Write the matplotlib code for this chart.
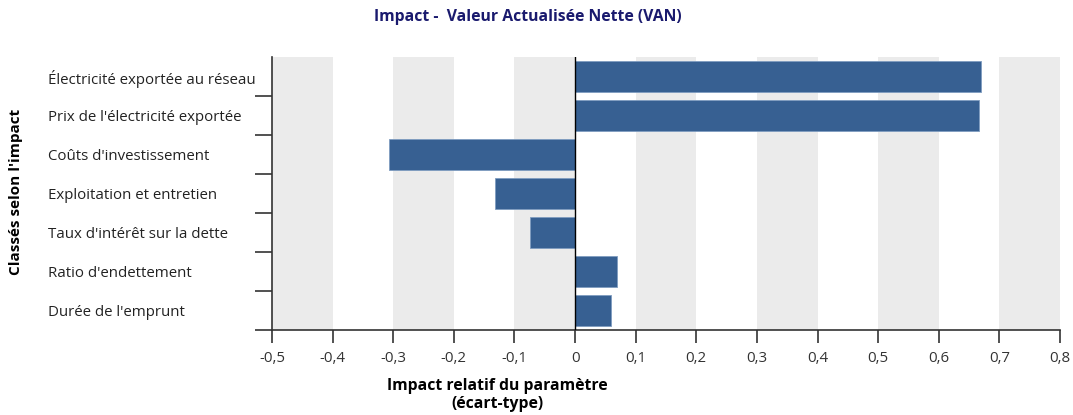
import matplotlib
matplotlib.use("Agg")
import matplotlib.pyplot as plt
from matplotlib.ticker import FuncFormatter
import numpy as np

# data
categories = ["Électricité exportée au réseau", "Prix de l'électricité exportée",
              "Coûts d'investissement", "Exploitation et entretien",
              "Taux d'intérêt sur la dette", "Ratio d'endettement", "Durée de l'emprunt"]
impacts = [0.670, 0.666, -0.307, -0.132, -0.074, 0.069, 0.059]
x_ticks = [-0.5, -0.4, -0.3, -0.2, -0.1, 0, 0.1, 0.2, 0.3, 0.4, 0.5, 0.6, 0.7, 0.8]

plt.rcParams['font.family'] = ['Open Sans', 'DejaVu Sans']

fig = plt.figure(figsize=(10.73, 4.15), dpi=100)
ax = fig.add_axes([272/1073, 1 - 330/415, (1060-272)/1073, (330-57)/415])

n = len(categories)
y = np.arange(n)
# alternating grey bands
for i in range(0, len(x_ticks) - 1, 2):
    ax.axvspan(x_ticks[i], x_ticks[i+1], color='#ebebeb', lw=0, zorder=0)

ax.barh(y, impacts, height=0.8, color='#376092', edgecolor='#7f9cc0', linewidth=0.6, zorder=2)
ax.axvline(0, color='black', lw=1, zorder=3)

ax.set_xlim(-0.5, 0.8)
ax.set_ylim(n - 0.5, -0.5)
ax.set_xticks(x_ticks)
ax.xaxis.set_major_formatter(FuncFormatter(lambda v, p: ('%g' % round(v, 1)).replace('.', ',')))
ax.tick_params(axis='x', length=9, width=1.2, color='#333333', labelsize=10.8, pad=6, labelcolor='#333333')

ax.set_yticks(y)
ax.set_yticklabels(categories)
ax.tick_params(axis='y', length=0, pad=161, labelsize=10.8, labelcolor='#222222')
for lbl in ax.get_yticklabels():
    lbl.set_horizontalalignment('left')
# boundary ticks (none at the very top)
ax.set_yticks(np.arange(1, n + 1) - 0.5, minor=True)
ax.tick_params(axis='y', which='minor', length=12, width=1.2, color='#333333')

for s in ['top', 'right']:
    ax.spines[s].set_visible(False)
for s in ['left', 'bottom']:
    ax.spines[s].set_color('#333333')
    ax.spines[s].set_linewidth(1.2)

fig.text(528/1073, 1 - 17/415, "Impact -  Valeur Actualisée Nette (VAN)", ha='center', va='center',
         fontsize=11.3, fontweight='bold', color='#1a1a6e')
fig.text(497/1073, 1 - 395/415, "Impact relatif du paramètre\n(écart-type)", ha='center', va='center',
         fontsize=11.3, fontweight='bold', color='black', linespacing=1.1)
fig.text(16/1073, 1 - 192/415, "Classés selon l'impact", ha='center', va='center', rotation=90,
         fontsize=11, fontweight='bold', color='black')

fig.savefig("out.png", dpi=100)
